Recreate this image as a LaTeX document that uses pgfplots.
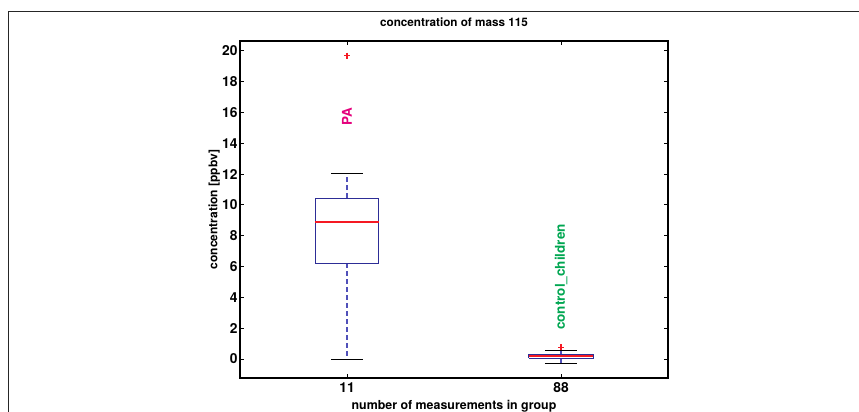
\documentclass[border=0pt]{standalone}
\usepackage{pgfplots}
\pgfplotsset{compat=1.18}
\usepackage{fontspec}
\setmainfont{TeX Gyre Heros}
\definecolor{boxblue}{RGB}{45,45,150}
\definecolor{whiskblue}{RGB}{80,80,185}
\definecolor{medred}{RGB}{245,25,35}
\definecolor{pamag}{RGB}{228,0,124}
\definecolor{ccgreen}{RGB}{0,166,81}
\begin{document}
\begin{tikzpicture}[x=1pt,y=1pt]
\useasboundingbox (0,0) rectangle (859,412);
\draw[line width=0.9pt, black!85] (8,-2) -- (8,401) -- (861,401);
\begin{axis}[
  at={(240pt,34pt)}, anchor=south west,
  width=428pt, height=337pt, scale only axis,
  xmin=0.5, xmax=2.5, ymin=-1.23, ymax=20.63,
  xtick={1,2}, xticklabels={11,88},
  ytick={0,2,...,20},
  tick align=inside,
  major tick length=4pt,
  axis line style={line width=1.6pt},
  every tick/.style={black, line width=0.8pt},
  /pgf/number format/assume math mode=true,
  ticklabel style={font=\fontsize{13.8}{15}\selectfont\bfseries},
  yticklabel style={xshift=1pt},
  xticklabel style={yshift=-1pt},
  title={concentration of mass 115},
  title style={at={(axis description cs:0.5,1.0385)}, anchor=center, font=\fontsize{11.7}{13}\selectfont\bfseries},
  xlabel={number of measurements in group},
  xlabel style={at={(axis description cs:0.5,-0.083)}, anchor=center, font=\fontsize{12.4}{14}\selectfont\bfseries},
  ylabel={concentration [ppbv]},
  ylabel style={at={(axis description cs:-0.06,0.5)}, anchor=center, font=\fontsize{12}{14}\selectfont\bfseries},
  clip=false,
]
% group 1 (n=11)
\addplot[draw=whiskblue, line width=1.1pt, dash pattern=on 5pt off 3pt] coordinates {(1,10.44) (1,12.06)};
\addplot[draw=whiskblue, line width=1.1pt, dash pattern=on 5pt off 3pt] coordinates {(1,6.21) (1,0.0)};
\addplot[draw=black, line width=0.8pt] coordinates {(0.927,12.06) (1.073,12.06)};
\addplot[draw=black, line width=0.8pt] coordinates {(0.927,0.0) (1.073,0.0)};
\addplot[draw=boxblue, line width=0.9pt] coordinates {(0.852,6.21) (1.148,6.21) (1.148,10.44) (0.852,10.44) (0.852,6.21)};
\addplot[draw=medred, line width=1.5pt] coordinates {(0.852,8.90) (1.148,8.90)};
\addplot[only marks, mark=+, mark size=3pt, mark options={draw=medred, line width=1.2pt}] coordinates {(1,19.68)};
% group 2 (n=88)
\addplot[draw=whiskblue, line width=1.1pt] coordinates {(2,0.30) (2,0.54)};
\addplot[draw=whiskblue, line width=1.1pt] coordinates {(2,0.06) (2,-0.28)};
\addplot[draw=black, line width=0.8pt] coordinates {(1.925,0.54) (2.075,0.54)};
\addplot[draw=black, line width=0.8pt] coordinates {(1.925,-0.28) (2.075,-0.28)};
\addplot[draw=boxblue, line width=0.9pt] coordinates {(1.85,0.06) (2.15,0.06) (2.15,0.30) (1.85,0.30) (1.85,0.06)};
\addplot[draw=medred, line width=1.3pt] coordinates {(1.85,0.19) (2.15,0.19)};
\addplot[only marks, mark=+, mark size=3pt, mark options={draw=medred, line width=1.2pt}] coordinates {(2,0.76)};
% group names
\node[rotate=90, anchor=west, inner sep=0pt, text=pamag, font=\fontsize{13.5}{15}\selectfont\bfseries] at (axis cs:1,15.13) {PA};
\node[rotate=90, anchor=west, inner sep=0pt, text=ccgreen, font=\fontsize{13.5}{15}\selectfont\bfseries] at (axis cs:2,1.88) {control\_children};
\end{axis}
\end{tikzpicture}
\end{document}
